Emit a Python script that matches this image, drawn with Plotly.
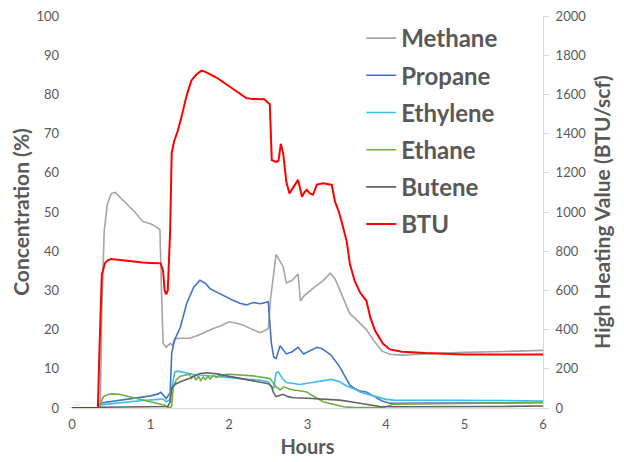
import plotly.graph_objects as go

# ---------------- data ----------------
methane_t = [0, 0.36, 0.38, 0.41, 0.45, 0.5, 0.55, 0.6, 0.7, 0.8, 0.9, 1.0, 1.05, 1.12, 1.14, 1.16, 1.2, 1.25,
             1.28, 1.31, 1.4, 1.5, 1.6, 1.7, 1.8, 1.9, 2.0, 2.1, 2.2, 2.3, 2.4, 2.5, 2.53, 2.6, 2.63, 2.66,
             2.69, 2.73, 2.8, 2.88, 2.91, 2.95, 3.0, 3.1, 3.2, 3.29, 3.35, 3.45, 3.54, 3.6, 3.67, 3.75, 3.85,
             3.95, 4.05, 4.2, 4.5, 5.0, 5.5, 6.0]
methane_v = [0, 0, 25, 45, 52, 54.7, 55, 54, 52, 50, 47.6, 47, 46.5, 45.5, 30, 16.5, 15.5, 16.5,
             16, 17.7, 17.8, 17.8, 18.5, 19.5, 20.3, 21, 22, 21.6, 21, 20, 19.2, 20.2, 28, 39.2, 38, 37.2,
             36, 31.9, 32.5, 34.2, 27.3, 28.5, 29.4, 31, 32.5, 34.4, 33, 28, 24, 23, 21.5, 20, 17,
             14.5, 13.7, 13.5, 13.8, 14.2, 14.4, 14.7]

propane_t = [0, 0.34, 0.37, 0.5, 0.7, 0.9, 1.0, 1.1, 1.13, 1.16, 1.2, 1.22, 1.25, 1.27, 1.31, 1.38, 1.46,
             1.55, 1.63, 1.7, 1.76, 1.85, 1.97, 2.05, 2.14, 2.22, 2.31, 2.4, 2.5, 2.52, 2.54, 2.57, 2.6,
             2.65, 2.7, 2.73, 2.8, 2.88, 2.95, 3.0, 3.12, 3.18, 3.24, 3.3, 3.41, 3.5, 3.54, 3.6, 3.67,
             3.75, 3.85, 3.95, 4.05, 4.5, 5.0, 5.5, 6.0]
propane_v = [0, 0, 1.3, 1.7, 2.2, 2.8, 3.1, 3.6, 4.0, 3.4, 2.4, 3.0, 3.8, 14, 17.5, 20.6, 26.6,
             30.8, 32.6, 31.8, 30.4, 29.5, 28.2, 27.5, 26.7, 26.3, 26.9, 26.6, 27.1, 22, 16.4, 13, 12.6,
             15.9, 14.5, 13.8, 14.3, 15.5, 13.8, 14.3, 15.5, 15.2, 14.3, 13.5, 10.5, 7.2, 5.8, 5.0, 4.3,
             4.1, 3.0, 1.8, 1.2, 1.2, 1.3, 1.3, 1.4]

ethylene_t = [0, 0.34, 0.37, 0.5, 0.7, 0.9, 1.1, 1.16, 1.2, 1.24, 1.27, 1.31, 1.35, 1.45, 1.54, 1.7, 1.85,
              1.97, 2.1, 2.25, 2.4, 2.5, 2.54, 2.57, 2.6, 2.63, 2.68, 2.73, 2.8, 2.9, 3.0, 3.1, 3.2, 3.3,
              3.41, 3.5, 3.58, 3.67, 3.75, 3.85, 3.92, 4.0, 4.1, 4.5, 5.0, 5.5, 6.0]
ethylene_v = [0, 0, 0.8, 1.1, 1.5, 1.9, 2.2, 2.3, 1.6, 2.0, 5, 9.2, 9.4, 9.0, 8.6, 8.3, 8.0,
              7.9, 7.6, 7.3, 7.1, 6.7, 5.5, 5.0, 9.0, 9.2, 7.5, 6.5, 6.3, 6.0, 6.3, 6.7, 7.0, 7.3,
              6.7, 5.6, 5.0, 4.1, 3.6, 3.0, 2.5, 2.2, 2.0, 2.0, 1.9, 1.9, 1.8]

ethane_t = [0, 0.34, 0.37, 0.4, 0.45, 0.5, 0.6, 0.7, 0.8, 0.91, 1.0, 1.12, 1.18, 1.22, 1.25, 1.27, 1.29,
            1.33, 1.38, 1.45, 1.5, 1.52, 1.55, 1.58, 1.61, 1.64, 1.67, 1.70, 1.73, 1.76, 1.80, 1.84, 1.88,
            1.92, 1.96, 2.0, 2.1, 2.2, 2.31, 2.4, 2.52, 2.56, 2.6, 2.65, 2.7, 2.75, 2.82, 2.9, 2.99,
            3.05, 3.1, 3.2, 3.3, 3.4, 3.46, 3.6, 3.8, 3.98, 4.1, 4.5, 5.0, 5.5, 6.0]
ethane_v = [0, 0, 1.5, 2.9, 3.4, 3.6, 3.5, 3.0, 2.6, 2.0, 1.6, 1.0, 0.7, 0.2, 0.1, 0.5, 5.4,
            7.2, 8.1, 8.4, 8.6, 7.6, 8.3, 7.1, 8.1, 7.0, 7.9, 7.2, 8.1, 7.4, 8.3, 7.8, 8.4,
            8.1, 8.6, 8.6, 8.5, 8.4, 8.2, 7.9, 7.5, 6.5, 5.4, 4.6, 5.4, 5.0, 4.6, 4.4, 4.1,
            3.3, 2.8, 1.6, 1.1, 0.5, 0.3, 0.1, 0.1, 0.2, 1.0, 1.1, 1.3, 1.4, 1.4]

butene_t = [0, 0.34, 0.37, 0.7, 1.0, 1.22, 1.25, 1.27, 1.31, 1.38, 1.5, 1.63, 1.72, 1.85, 1.97, 2.1, 2.22,
            2.35, 2.5, 2.54, 2.57, 2.6, 2.65, 2.69, 2.75, 2.82, 3.0, 3.24, 3.41, 3.55, 3.67, 3.8, 3.92,
            4.1, 4.5, 5.0, 5.5, 6.0]
butene_v = [0, 0, 0.2, 0.3, 0.3, 0.4, 1.5, 5.0, 6.0, 6.7, 7.6, 8.8, 9.0, 8.7, 8.2, 7.7, 7.1,
            6.6, 6.2, 5.5, 3.8, 2.9, 3.2, 3.5, 2.9, 2.6, 2.5, 2.2, 2.0, 1.6, 1.2, 0.8, 0.4,
            0.3, 0.3, 0.4, 0.4, 0.5]

btu_t = [0, 0.33, 0.35, 0.38, 0.42, 0.46, 0.5, 0.6, 0.7, 0.8, 0.9, 1.0, 1.1, 1.13, 1.16, 1.18, 1.2, 1.22,
         1.25, 1.27, 1.3, 1.35, 1.4, 1.46, 1.52, 1.58, 1.65, 1.7, 1.84, 1.95, 2.05, 2.15, 2.22, 2.3,
         2.39, 2.45, 2.49, 2.52, 2.545, 2.6, 2.63, 2.66, 2.69, 2.73, 2.77, 2.82, 2.88, 2.93, 2.96,
         2.99, 3.03, 3.07, 3.12, 3.2, 3.31, 3.35, 3.4, 3.44, 3.5, 3.54, 3.6, 3.67, 3.75, 3.8, 3.86,
         3.96, 4.05, 4.2, 4.5, 5.0, 5.5, 6.0]
btu_v = [0, 0, 300, 680, 740, 755, 760, 755, 750, 745, 742, 740, 740, 738, 700, 600, 580, 600,
         900, 1300, 1360, 1417, 1493, 1594, 1670, 1700, 1721, 1715, 1686, 1655, 1627, 1600, 1581, 1577,
         1576, 1575, 1560, 1550, 1265, 1255, 1260, 1348, 1300, 1154, 1095, 1125, 1164, 1078, 1100,
         1113, 1095, 1088, 1140, 1146, 1138, 1053, 1000, 943, 850, 734, 650, 589, 547, 462, 395,
         329, 299, 287, 280, 273, 272, 273]

x_ticks = [0, 1, 2, 3, 4, 5, 6]
left_ticks = [0, 10, 20, 30, 40, 50, 60, 70, 80, 90, 100]
right_ticks = [0, 200, 400, 600, 800, 1000, 1200, 1400, 1600, 1800, 2000]

# ---------------- figure ----------------
FONT = "Lato"
GRAY = "#595959"

series = [
    ("Methane", methane_t, methane_v, "#A5A5A5", 1.6, "y"),
    ("Propane", propane_t, propane_v, "#4472C4", 1.6, "y"),
    ("Ethylene", ethylene_t, ethylene_v, "#3CBDF0", 1.6, "y"),
    ("Ethane", ethane_t, ethane_v, "#70AD47", 1.6, "y"),
    ("Butene", butene_t, butene_v, "#636363", 1.6, "y"),
    ("BTU", btu_t, btu_v, "#FF0000", 2.0, "y2"),
]

fig = go.Figure()
for name, t, v, col, w, ax in series:
    fig.add_trace(go.Scatter(x=t, y=v, mode="lines", name=name, yaxis=ax,
                             legendgroup=name,
                             line=dict(color=col, width=w)))

# the page adds an 8px body margin, so the figure is 8px smaller than the window
fig.update_layout(
    width=616, height=454,
    margin=dict(l=64, r=81, t=8, b=54, autoexpand=False),
    paper_bgcolor="white", plot_bgcolor="white",
    font=dict(family=FONT, color=GRAY),
    showlegend=True,
    legend=dict(x=0.614, y=1.0, xanchor="left", yanchor="top",
                font=dict(family=FONT, size=24, color=GRAY, weight="bold"),
                bgcolor="rgba(0,0,0,0)", traceorder="grouped", tracegroupgap=3,
                itemwidth=30),
    xaxis=dict(range=[0, 6], tickvals=x_ticks, showgrid=False, zeroline=False, automargin=False,
               showline=True, linecolor="#D9D9D9", linewidth=1, ticks="",
               ticklabeloverflow="allow",
               tickfont=dict(size=13, color=GRAY), ticklabelstandoff=4,
               title=dict(text="Hours", font=dict(size=20, color=GRAY, weight="bold"), standoff=9)),
    yaxis=dict(range=[0, 100], tickvals=left_ticks, showgrid=False, zeroline=False, automargin=False,
               showline=False, ticks="", tickfont=dict(size=13, color=GRAY), ticklabelstandoff=12,
               ticklabeloverflow="allow",
               title=dict(text="Concentration (%)", font=dict(size=21, color=GRAY, weight="bold"),
                          standoff=10)),
    yaxis2=dict(range=[0, 2000], tickvals=right_ticks, overlaying="y", side="right", automargin=False,
                showgrid=False, zeroline=False, showline=True, linecolor="#D9D9D9", linewidth=1,
                ticks="outside", ticklen=5, tickcolor="#D9D9D9", ticklabeloverflow="allow",
                tickfont=dict(size=13, color=GRAY), ticklabelstandoff=4,
                title=dict(text="High Heating Value (BTU/scf)",
                           font=dict(size=21, color=GRAY, weight="bold"), standoff=10)),
)

fig.write_html("out.html")
